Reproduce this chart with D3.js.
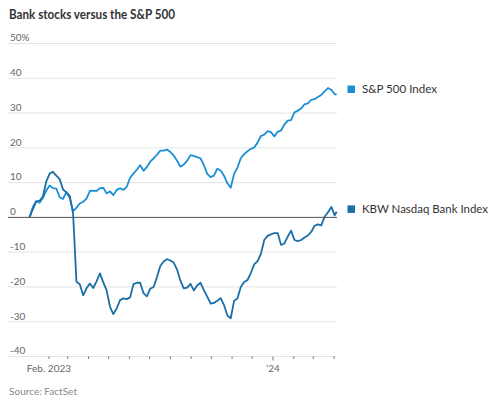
<!DOCTYPE html>
<html><head><meta charset="utf-8">
<script src="https://cdn.jsdelivr.net/npm/d3@7"></script>
<style>
html,body{margin:0;padding:0;background:#fff;}
svg{display:block;font-family:Lato,"Noto Sans",sans-serif;}
</style></head>
<body><svg id="c" width="500" height="403"></svg>
<script>
const dates = ["2023-01-03","2023-01-08","2023-01-13","2023-01-18","2023-01-23","2023-01-28","2023-02-02","2023-02-07","2023-02-12","2023-02-17","2023-02-22","2023-02-27","2023-03-04","2023-03-09","2023-03-14","2023-03-19","2023-03-24","2023-03-29","2023-04-03","2023-04-08","2023-04-13","2023-04-18","2023-04-23","2023-04-28","2023-05-03","2023-05-08","2023-05-13","2023-05-18","2023-05-23","2023-05-28","2023-06-02","2023-06-07","2023-06-12","2023-06-17","2023-06-22","2023-06-27","2023-07-02","2023-07-07","2023-07-12","2023-07-17","2023-07-22","2023-07-27","2023-08-01","2023-08-06","2023-08-11","2023-08-16","2023-08-21","2023-08-26","2023-08-31","2023-09-05","2023-09-10","2023-09-15","2023-09-20","2023-09-25","2023-09-30","2023-10-05","2023-10-10","2023-10-15","2023-10-20","2023-10-25","2023-10-30","2023-11-04","2023-11-09","2023-11-14","2023-11-19","2023-11-24","2023-11-29","2023-12-04","2023-12-09","2023-12-14","2023-12-19","2023-12-24","2023-12-29","2024-01-03","2024-01-08","2024-01-13","2024-01-18","2024-01-23","2024-01-28","2024-02-02","2024-02-07","2024-02-12","2024-02-17","2024-02-22","2024-02-27","2024-03-03","2024-03-08","2024-03-13","2024-03-18","2024-03-23","2024-03-28","2024-04-02","2024-04-05"];
const spx = [0,3.0,4.7,4.2,5.6,7.7,9.2,8.4,8.3,5.8,5.3,7.3,5.6,1.8,2.8,4.0,4.5,5.4,7.6,7.7,7.6,8.4,8.5,6.9,7.5,6.4,7.9,8.4,7.9,8.8,11.4,12.6,13.7,15.0,13.4,14.5,16.0,17.0,18.0,19.2,19.2,19.5,18.8,17.8,16.3,14.6,15.2,16.3,17.9,17.7,17.3,17.0,15.0,12.5,11.6,12.0,14.0,13.5,12.0,9.8,8.5,12.5,14.3,17.0,18.2,19.0,19.7,20.1,21.5,23.4,23.8,24.8,24.5,23.3,24.6,25.0,26.7,27.8,28.0,30.2,30.7,31.3,32.5,32.8,33.8,34.0,34.6,35.2,36.2,37.2,36.7,35.4,35.4];
const kbw = [0,2.4,4.5,4.8,6.0,10.3,12.6,13.1,12.0,11.0,8.0,7.2,6.2,1.0,-18.5,-19.2,-22.4,-20.4,-19,-20.3,-18.4,-16.1,-18.7,-21,-25.7,-27.8,-26.2,-23.8,-23.3,-23.5,-23,-19.2,-18.8,-18.8,-21.8,-22.7,-20.5,-20,-17.2,-14,-12.7,-12,-12.4,-13,-15,-18.2,-20.4,-20.2,-19.1,-21.0,-19.6,-18.8,-20.9,-22.8,-24.8,-24.6,-24.0,-23.2,-25.2,-28.2,-29.0,-24,-23.3,-20,-18.6,-18,-16,-13.5,-12.6,-10.5,-6.5,-5.3,-4.9,-4.5,-4.5,-7.9,-7.5,-5.5,-3.8,-6.5,-6.8,-6.5,-5.8,-5.2,-4.2,-2.4,-2.0,-2.3,0.2,1.5,3.0,0.6,1.6];
const seriesNames = ["S&P 500 Index","KBW Nasdaq Bank Index"];
const seriesColors = ["#1a8fd4","#1b6ea6"];
const yTicks = [-40,-30,-20,-10,0,10,20,30,40,50];
const xTickLabels = [["2023-02-01","Feb. 2023"],["2024-01-01","\u201924"]];
const title = "Bank stocks versus the S&P 500";
const source = "Source: FactSet";

const parse = d3.timeParse("%Y-%m-%d");
const svg = d3.select("#c");
const x = d3.scaleTime().domain([parse("2023-01-03"), parse("2024-04-05")]).range([29.5, 336.7]);
const y = d3.scaleLinear().domain([-40, 50]).range([356.5, 43.5]);
const gx0 = 8, gx1 = 337;

// title
svg.append("text").attr("x", 9).attr("y", 19).text(title)
  .attr("font-size", 12.5).attr("font-weight", 700).attr("fill", "#333")
  .attr("textLength", 166).attr("lengthAdjust", "spacingAndGlyphs");

// grid
svg.append("g").selectAll("line").data(yTicks.filter(v => v !== 0)).join("line")
  .attr("x1", gx0).attr("x2", gx1).attr("y1", d => y(d)).attr("y2", d => y(d))
  .attr("stroke", "#e4e4e4").attr("stroke-width", 1);
svg.append("g").selectAll("text").data(yTicks).join("text")
  .attr("x", 10).attr("y", d => y(d) - 2.2)
  .attr("font-size", 10).attr("fill", "#666")
  .text(d => d === 50 ? "50%" : String(d));

// x axis ticks
const months = d3.timeMonth.range(parse("2023-02-01"), parse("2024-04-02"));
svg.append("g").selectAll("line").data(months).join("line")
  .attr("x1", d => x(d)).attr("x2", d => x(d))
  .attr("y1", y(-40)).attr("y2", d => d.getMonth() === 0 ? y(-40) + 4 : y(-40) + 2.5)
  .attr("stroke", "#777").attr("stroke-width", 1);
svg.append("g").selectAll("text").data(xTickLabels).join("text")
  .attr("x", d => x(parse(d[0]))).attr("y", 372)
  .attr("text-anchor", "middle").attr("font-size", 10).attr("fill", "#666")
  .text(d => d[1]);

// lines
const rows = dates.map((d, i) => ({date: parse(d), s: spx[i], k: kbw[i]}));
const line = key => d3.line().x(d => x(d.date)).y(d => y(d[key]));
svg.append("path").datum(rows).attr("d", line("s"))
  .attr("fill", "none").attr("stroke", seriesColors[0]).attr("stroke-width", 1.8)
  .attr("stroke-linejoin", "round");
svg.append("path").datum(rows).attr("d", line("k"))
  .attr("fill", "none").attr("stroke", seriesColors[1]).attr("stroke-width", 1.8)
  .attr("stroke-linejoin", "round");

// zero line
svg.append("line").attr("x1", gx0).attr("x2", gx1).attr("y1", y(0)).attr("y2", y(0))
  .attr("stroke", "#555").attr("stroke-width", 1);

// legend
const legY = [89.3, 209.2];
const legW = [75, 126];
seriesNames.forEach((n, i) => {
  svg.append("rect").attr("x", 347.5).attr("y", legY[i] - 3.8).attr("width", 7.5).attr("height", 7.5)
    .attr("fill", seriesColors[i]);
  svg.append("text").attr("x", 362).attr("y", legY[i] + 4).text(n)
    .attr("font-size", 11.5).attr("fill", "#333")
    .attr("textLength", legW[i]).attr("lengthAdjust", "spacingAndGlyphs");
});

// source
svg.append("text").attr("x", 9).attr("y", 395).text(source)
  .attr("font-size", 10).attr("fill", "#888")
  .attr("textLength", 68).attr("lengthAdjust", "spacingAndGlyphs");
</script></body></html>
